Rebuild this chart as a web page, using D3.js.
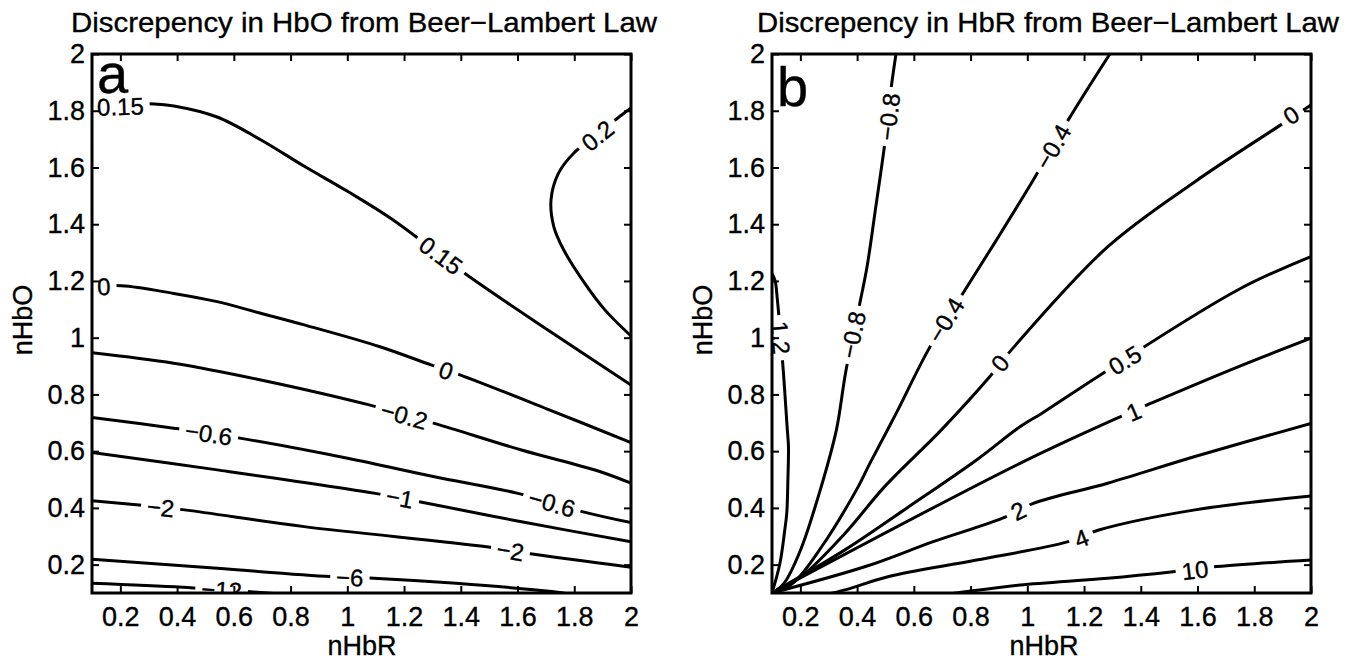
<!DOCTYPE html>
<html>
<head>
<meta charset="utf-8">
<script src="https://cdn.jsdelivr.net/npm/d3@7"></script>
<style>
  html, body { margin: 0; padding: 0; background: #fff; }
  svg { display: block; }
  text { font-family: "Liberation Sans", Arial, Helvetica, sans-serif; fill: #000; stroke: #000; stroke-width: 0.35px; }
</style>
</head>
<body>
<svg id="fig" width="1352" height="663"></svg>
<script>
// ---- shared axis data ----
const axisDomain = [0.1, 2];
const tickValues = [0.2, 0.4, 0.6, 0.8, 1, 1.2, 1.4, 1.6, 1.8, 2];
const tickLabels = ["0.2", "0.4", "0.6", "0.8", "1", "1.2", "1.4", "1.6", "1.8", "2"];

// ---- panel a: discrepancy in HbO, contour levels and traced isolines [nHbR, nHbO] ----
const hboLevels = [0.15, 0.2, 0, -0.2, -0.6, -1, -2, -6, -12];
const hbo_015 = [[0.1,1.817],[0.319,1.824],[0.389,1.817],[0.541,1.778],[0.696,1.697],[0.847,1.605],[1.002,1.515],[1.154,1.42],[1.422,1.221],[1.707,1.027],[2.0,0.833]];
const hbo_02  = [[2.0,1.81],[1.967,1.785],[1.798,1.650],[1.744,1.579],[1.718,1.485],[1.728,1.391],[1.763,1.309],[1.834,1.196],[1.908,1.098],[2.0,1.006]];
const hbo_0   = [[0.1,1.179],[0.204,1.183],[0.388,1.156],[0.541,1.127],[0.695,1.086],[0.848,1.045],[1.115,0.968],[1.295,0.904],[1.397,0.869],[1.714,0.745],[2.0,0.630]];
const hbo_m02 = [[0.1,0.947],[0.388,0.910],[0.695,0.851],[1.077,0.763],[1.307,0.698],[1.614,0.604],[1.884,0.53],[2.0,0.487]];
const hbo_m06 = [[0.1,0.719],[0.388,0.681],[0.626,0.645],[1.001,0.575],[1.307,0.510],[1.598,0.452],[1.828,0.387],[2.0,0.348]];
const hbo_m1  = [[0.1,0.595],[0.541,0.534],[1.093,0.452],[1.254,0.422],[1.614,0.351],[2.0,0.281]];
const hbo_m2  = [[0.1,0.425],[0.266,0.410],[0.426,0.393],[0.848,0.334],[1.491,0.263],[1.645,0.238],[2.0,0.191]];
const hbo_m6  = [[0.1,0.219],[0.541,0.187],[0.940,0.158],[1.093,0.152],[1.384,0.134],[1.721,0.105],[1.85,0.085]];
const hbo_m12 = [[0.1,0.134],[0.419,0.120],[0.648,0.105],[0.85,0.09]];
const hboLines = [hbo_015, hbo_02, hbo_0, hbo_m02, hbo_m06, hbo_m1, hbo_m2, hbo_m6, hbo_m12];
// inline labels: [level, nHbR, nHbO]
const hboLabels = [[0.15,0.2,1.815],[0.2,1.882,1.712],[0.15,1.33,1.29],[0,0.142,1.181],[0,1.348,0.884],
                   [-0.2,1.2,0.726],[-0.6,0.511,0.662],[-0.6,1.721,0.417],[-1,1.185,0.436],
                   [-2,0.342,0.402],[-2,1.575,0.249],[-6,1.009,0.155],[-12,0.557,0.111]];

// ---- panel b: discrepancy in HbR ----
const hbrLevels = [1.2, -0.8, -0.4, 0, 0.5, 1, 2, 4, 10];
const hbr_12  = [[0.1,1.225],[0.111,1.2],[0.119,1.133],[0.140,0.880],[0.154,0.675],[0.158,0.616],[0.156,0.498],[0.152,0.381],[0.145,0.322],[0.128,0.205],[0.1,0.1]];
const hbr_m08 = [[0.537,2.0],[0.519,1.873],[0.496,1.673],[0.466,1.462],[0.435,1.250],[0.407,1.109],[0.360,0.88],[0.327,0.675],[0.275,0.48],[0.2,0.25],[0.142,0.134],[0.1,0.1]];
const hbr_m04 = [[1.291,2.0],[1.144,1.767],[1.021,1.556],[0.891,1.344],[0.766,1.145],[0.651,0.957],[0.538,0.734],[0.445,0.557],[0.404,0.475],[0.275,0.263],[0.173,0.134],[0.1,0.1]];
const hbr_0   = [[2.0,1.82],[1.884,1.744],[1.591,1.550],[1.283,1.320],[0.944,0.957],[0.868,0.863],[0.697,0.675],[0.497,0.475],[0.357,0.31],[0.203,0.158],[0.1,0.1]];
const hbr_05  = [[2.0,1.286],[1.745,1.170],[1.267,0.875],[1.052,0.734],[0.974,0.686],[0.821,0.569],[0.576,0.40],[0.357,0.252],[0.1,0.1]];
const hbr_1   = [[2.0,0.998],[1.745,0.898],[1.437,0.769],[1.329,0.722],[0.974,0.557],[0.1,0.1]];
const hbr_2   = [[2.0,0.698],[1.591,0.581],[1.283,0.487],[1.021,0.416],[0.913,0.364],[0.666,0.28],[0.435,0.195],[0.1,0.1]];
const hbr_4   = [[2.0,0.442],[1.591,0.393],[1.252,0.322],[1.144,0.281],[0.821,0.216],[0.512,0.158],[0.357,0.111],[0.25,0.085]];
const hbr_10  = [[2.0,0.216],[1.668,0.193],[1.514,0.175],[1.283,0.152],[0.974,0.128],[0.789,0.105],[0.65,0.085]];
const hbrLines = [hbr_12, hbr_m08, hbr_m04, hbr_0, hbr_05, hbr_1, hbr_2, hbr_4, hbr_10];
const hbrLabels = [[-0.8,0.512,1.779],[-0.8,0.385,1.01],[-0.4,1.090,1.673],[-0.4,0.712,1.062],[0,1.930,1.785],
                   [0,0.904,0.910],[0.5,1.344,0.921],[1,1.375,0.739],[2,0.968,0.390],[4,1.191,0.293],
                   [10,1.591,0.181],[1.2,0.13,1.0]];

const svg = d3.select("#fig");
const defs = svg.append("defs");
const fmtLevel = v => String(v).replace("-", "\u2212");

// direction (degrees, kept upright) of the polyline segment nearest to a point
function segmentAngle(pts, px, py) {
  let best = Infinity, ang = 0;
  for (let i = 0; i < pts.length - 1; i++) {
    const [ax, ay] = pts[i], [bx, by] = pts[i + 1];
    const dx = bx - ax, dy = by - ay, L2 = dx * dx + dy * dy || 1;
    const t = Math.max(0, Math.min(1, ((px - ax) * dx + (py - ay) * dy) / L2));
    const qx = ax + t * dx - px, qy = ay + t * dy - py, d = qx * qx + qy * qy;
    if (d < best) { best = d; ang = Math.atan2(dy, dx) * 180 / Math.PI; }
  }
  if (ang > 90) ang -= 180;
  if (ang <= -90) ang += 180;
  return ang;
}

function drawPanel(p) {
  const x = d3.scaleLinear().domain(axisDomain).range([p.left, p.left + p.size]);
  const y = d3.scaleLinear().domain(axisDomain).range([p.top + p.size, p.top]);
  const g = svg.append("g");

  defs.append("clipPath").attr("id", p.id + "-clip")
    .append("rect").attr("x", p.left).attr("y", p.top).attr("width", p.size).attr("height", p.size);
  const mask = defs.append("mask").attr("id", p.id + "-mask")
    .attr("maskUnits", "userSpaceOnUse").attr("x", 0).attr("y", 0).attr("width", 1352).attr("height", 663);
  mask.append("rect").attr("width", 1352).attr("height", 663).attr("fill", "#fff").attr("stroke", "none");

  const plot = g.append("g").attr("clip-path", `url(#${p.id}-clip)`);
  const line = d3.line().x(d => x(d[0])).y(d => y(d[1])).curve(d3.curveCatmullRom.alpha(0.5));

  plot.append("g").attr("mask", `url(#${p.id}-mask)`)
    .selectAll("path").data(p.lines).join("path")
    .attr("d", line)
    .attr("fill", "none").attr("stroke", "#000").attr("stroke-width", 3)
    .attr("stroke-linejoin", "round").attr("stroke-linecap", "butt");

  // inline contour labels, with a gap cut into the isoline under each one
  const labelSize = 24;
  p.labels.forEach(([lvl, lx, ly]) => {
    const pts = p.lines[p.levels.indexOf(lvl)].map(d => [x(d[0]), y(d[1])]);
    const cx = x(lx), cy = y(ly);
    const ang = segmentAngle(pts, cx, cy);
    const tr = `translate(${cx},${cy}) rotate(${ang})`;
    const t = plot.append("text").attr("transform", tr)
      .attr("text-anchor", "middle").attr("dy", "0.36em")
      .attr("font-size", labelSize).text(fmtLevel(lvl));
    const w = t.node().getComputedTextLength();
    const pad = 6, h = labelSize * 0.8;
    mask.append("rect").attr("transform", tr)
      .attr("x", -w / 2 - pad).attr("y", -h / 2).attr("width", w + 2 * pad).attr("height", h)
      .attr("fill", "#000").attr("stroke", "none");
  });

  // inward ticks on all four sides
  const tk = 7;
  const styleAxis = a => {
    a.select(".domain").remove();
    a.selectAll(".tick line").attr("stroke", "#000").attr("stroke-width", 2);
    a.selectAll(".tick text").attr("font-size", 27).attr("fill", "#000");
    a.attr("font-family", null).attr("font-size", null).attr("fill", null);
  };
  g.append("g").attr("transform", `translate(0,${p.top + p.size})`)
    .call(d3.axisBottom(x).tickValues(tickValues).tickFormat((d, i) => tickLabels[i])
      .tickSizeInner(-tk).tickSizeOuter(0).tickPadding(14))
    .call(styleAxis);
  g.append("g").attr("transform", `translate(${p.left},0)`)
    .call(d3.axisLeft(y).tickValues(tickValues).tickFormat((d, i) => tickLabels[i])
      .tickSizeInner(-tk).tickSizeOuter(0).tickPadding(7))
    .call(styleAxis);
  g.append("g").attr("transform", `translate(0,${p.top})`)
    .call(d3.axisTop(x).tickValues(tickValues).tickFormat("").tickSizeInner(-tk).tickSizeOuter(0))
    .call(styleAxis);
  g.append("g").attr("transform", `translate(${p.left + p.size},0)`)
    .call(d3.axisRight(y).tickValues(tickValues).tickFormat("").tickSizeInner(-tk).tickSizeOuter(0))
    .call(styleAxis);

  // box
  g.append("rect").attr("x", p.left).attr("y", p.top).attr("width", p.size).attr("height", p.size)
    .attr("fill", "none").attr("stroke", "#000").attr("stroke-width", 3);

  // titles and axis labels
  g.append("text").attr("x", p.titleX).attr("y", 32).attr("text-anchor", "middle")
    .attr("font-size", 28).attr("textLength", p.titleWidth).attr("lengthAdjust", "spacingAndGlyphs")
    .text(p.title);
  g.append("text").attr("x", p.left + 5).attr("y", p.letterBaseline)
    .attr("font-size", 56).text(p.letter);
  g.append("text").attr("x", p.xLabelX).attr("y", 655).attr("text-anchor", "middle")
    .attr("font-size", 27).text("nHbR");
  g.append("text").attr("transform", `translate(${p.yLabelX},320) rotate(-90)`)
    .attr("text-anchor", "middle").attr("font-size", 27).text("nHbO");
}

drawPanel({
  id: "hbo", left: 92, top: 54, size: 539,
  levels: hboLevels, lines: hboLines, labels: hboLabels,
  title: "Discrepency in HbO from Beer\u2212Lambert Law", titleX: 364, titleWidth: 586,
  letter: "a", letterBaseline: 93, xLabelX: 362, yLabelX: 32
});
drawPanel({
  id: "hbr", left: 772, top: 54, size: 539,
  levels: hbrLevels, lines: hbrLines, labels: hbrLabels,
  title: "Discrepency in HbR from Beer\u2212Lambert Law", titleX: 1048, titleWidth: 582,
  letter: "b", letterBaseline: 106, xLabelX: 1044, yLabelX: 712
});
</script>
</body>
</html>
